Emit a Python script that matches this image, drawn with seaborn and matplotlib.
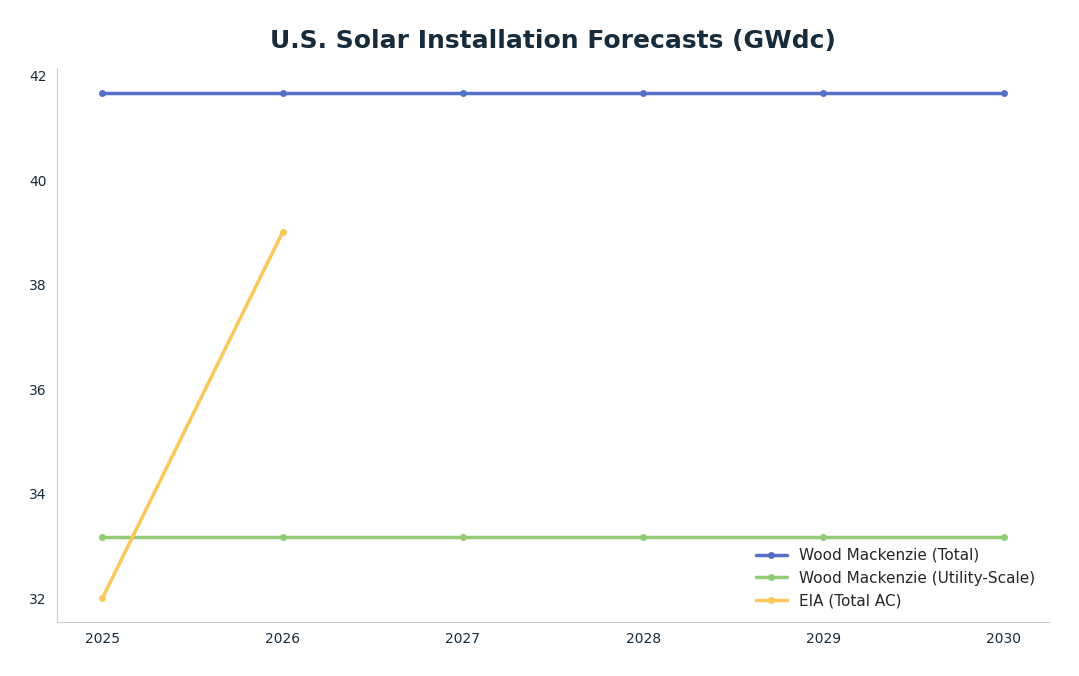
import pandas as pd
import matplotlib.pyplot as plt
import seaborn as sns

years = [2025, 2026, 2027, 2028, 2029, 2030]
wm_total = [41.67, 41.67, 41.67, 41.67, 41.67, 41.67]
wm_utility = [33.17, 33.17, 33.17, 33.17, 33.17, 33.17]
eia_years = [2025, 2026]
eia_total = [32.0, 39.0]

df = pd.concat([
    pd.DataFrame({"year": years, "value": wm_total, "series": "Wood Mackenzie (Total)"}),
    pd.DataFrame({"year": years, "value": wm_utility, "series": "Wood Mackenzie (Utility-Scale)"}),
    pd.DataFrame({"year": eia_years, "value": eia_total, "series": "EIA (Total AC)"}),
])

sns.set_style("white")
fig, ax = plt.subplots(figsize=(10.79, 6.76), dpi=100)
fig.subplots_adjust(left=0.053, right=0.972, top=0.9, bottom=0.08)

palette = {"Wood Mackenzie (Total)": "#5470c6",
           "Wood Mackenzie (Utility-Scale)": "#91cc75",
           "EIA (Total AC)": "#fac858"}
sns.lineplot(data=df, x="year", y="value", hue="series", palette=palette,
             marker="o", markersize=5, markeredgewidth=0, linewidth=2.5, ax=ax)

ax.set_title("U.S. Solar Installation Forecasts (GWdc)", fontsize=18,
             fontweight="bold", color="#182b3a", pad=14)
ax.set_xlabel("")
ax.set_ylabel("")
ax.set_xticks(years)
ax.set_yticks([32, 34, 36, 38, 40, 42])
ax.set_xlim(2024.75, 2030.25)
ax.set_ylim(31.55, 42.15)
ax.tick_params(axis="both", colors="#182b3a", labelsize=10, length=4, color="#cccccc")
sns.despine(ax=ax)
for s in ["left", "bottom"]:
    ax.spines[s].set_color("#cccccc")

leg = ax.legend(loc="lower right", frameon=False, fontsize=11)

fig.savefig("out.png", dpi=100)
